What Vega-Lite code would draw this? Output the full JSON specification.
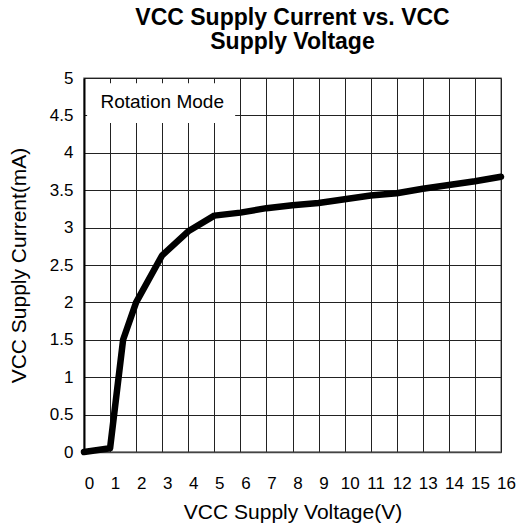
{
  "$schema": "https://vega.github.io/schema/vega-lite/v6.json",
  "width": 417,
  "height": 374,
  "autosize": {"type": "none"},
  "padding": {"left": 84, "top": 78, "right": 16, "bottom": 80},
  "background": "white",
  "title": {
    "text": ["VCC Supply Current vs. VCC", "Supply Voltage"],
    "font": "Liberation Sans",
    "fontSize": 23,
    "fontWeight": "bold",
    "color": "#000",
    "lineHeight": 24,
    "anchor": "middle",
    "offset": 15
  },
  "config": {
    "font": "Liberation Sans",
    "view": {"stroke": "#888", "strokeWidth": 1.5},
    "axis": {
      "labelFont": "Liberation Sans",
      "titleFont": "Liberation Sans",
      "labelColor": "#000",
      "titleColor": "#000",
      "titleFontWeight": "normal",
      "gridColor": "#222",
      "gridOpacity": 1,
      "gridWidth": 1,
      "ticks": false,
      "labelOverlap": false,
      "labelBound": false,
      "labelFlush": false
    }
  },
  "datasets": {
    "curve": [
      {"v": 0, "i": 0},
      {"v": 1, "i": 0.05},
      {"v": 1.5, "i": 1.5},
      {"v": 2, "i": 2.0},
      {"v": 3, "i": 2.63},
      {"v": 4, "i": 2.95},
      {"v": 5, "i": 3.16},
      {"v": 6, "i": 3.2},
      {"v": 7, "i": 3.26},
      {"v": 8, "i": 3.3},
      {"v": 9, "i": 3.33},
      {"v": 10, "i": 3.38},
      {"v": 11, "i": 3.43},
      {"v": 12, "i": 3.46},
      {"v": 13, "i": 3.52},
      {"v": 14, "i": 3.57},
      {"v": 15, "i": 3.62},
      {"v": 16, "i": 3.68}
    ],
    "box": [
      {"v": 0.12, "v2": 5.8, "i": 4.4, "i2": 4.93}
    ],
    "note": [
      {"v": 3.0, "i": 4.68, "label": "Rotation Mode"}
    ]
  },
  "encoding": {
    "x": {
      "field": "v",
      "type": "quantitative",
      "scale": {"domain": [0, 16], "nice": false, "zero": false},
      "axis": {
        "title": "VCC Supply Voltage(V)",
        "values": [0,1,2,3,4,5,6,7,8,9,10,11,12,13,14,15,16],
        "format": "d",
        "labelFontSize": 17,
        "labelPadding": 23,
        "labelOffset": 5,
        "titleFontSize": 21,
        "titlePadding": 10,
        "domainColor": "#444",
        "domainWidth": 1.5
      }
    },
    "y": {
      "field": "i",
      "type": "quantitative",
      "scale": {"domain": [0, 5], "nice": false},
      "axis": {
        "title": "VCC Supply Current(mA)",
        "values": [0,0.5,1,1.5,2,2.5,3,3.5,4,4.5,5],
        "format": "~g",
        "labelFontSize": 17,
        "labelPadding": 11,
        "titleFontSize": 21,
        "titlePadding": 20,
        "domainColor": "#000",
        "domainWidth": 2
      }
    }
  },
  "layer": [
    {
      "data": {"name": "curve"},
      "mark": {"type": "line", "color": "#000", "strokeWidth": 6.5, "strokeCap": "round", "strokeJoin": "round"}
    },
    {
      "data": {"name": "box"},
      "mark": {"type": "rect", "fill": "white", "stroke": null},
      "encoding": {
        "x2": {"field": "v2"},
        "y2": {"field": "i2"}
      }
    },
    {
      "data": {"name": "note"},
      "mark": {"type": "text", "font": "Liberation Sans", "fontSize": 19, "color": "#000", "align": "center", "baseline": "middle"},
      "encoding": {
        "text": {"field": "label"}
      }
    }
  ]
}
